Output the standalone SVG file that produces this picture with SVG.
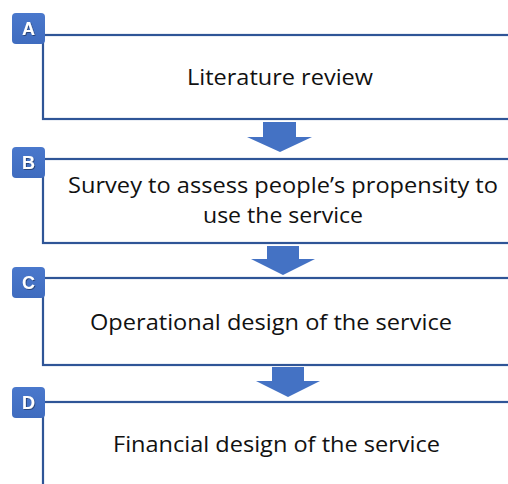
<svg xmlns="http://www.w3.org/2000/svg" width="508" height="484" viewBox="0 0 508 484">
<defs>
<linearGradient id="badgeGrad" x1="0" y1="0" x2="0" y2="1">
<stop offset="0" stop-color="#4a78cc"/>
<stop offset="1" stop-color="#3f6cbf"/>
</linearGradient>
<filter id="txtShadow" x="-20%" y="-20%" width="150%" height="150%">
<feDropShadow dx="0.8" dy="0.8" stdDeviation="0.6" flood-color="#000" flood-opacity="0.5"/>
</filter>
</defs>
<style>
.frame{fill:#fff;stroke:#2f5597;stroke-width:2.2}
.badge{fill:url(#badgeGrad)}
.badgeTxt{font-family:"Liberation Sans",Arial,sans-serif;font-weight:bold;font-size:18px;fill:#fff;text-anchor:middle}
.label{font-family:"Open Sans","Noto Sans",sans-serif;font-size:21.5px;fill:#111;text-anchor:middle}
.arrow{fill:#4472c4}
</style>
<g id="connectors">
<polygon class="arrow" points="263,122 296,122 296,137 312,137 280,152 247,137 263,137"/>
<polygon class="arrow" points="267,246 299,246 299,259 315,259 283,275 251,259 267,259"/>
<polygon class="arrow" points="272,367 304,367 304,381 320,381 288,397 256,381 272,381"/>
</g>
<g id="nodeA">
<rect class="frame" x="43" y="35" width="480" height="84"/>
<rect class="badge" x="12" y="13" width="33" height="31" rx="4"/>
<text class="badgeTxt" x="28.5" y="35" filter="url(#txtShadow)">A</text>
<text class="label" x="280" y="85" textLength="186" lengthAdjust="spacingAndGlyphs">Literature review</text>
</g>
<g id="nodeB">
<rect class="frame" x="43" y="159" width="480" height="84"/>
<rect class="badge" x="12" y="147" width="33" height="31" rx="4"/>
<text class="badgeTxt" x="28.5" y="169" filter="url(#txtShadow)">B</text>
<text class="label" x="283" y="193" textLength="430" lengthAdjust="spacingAndGlyphs">Survey to assess people’s propensity to</text>
<text class="label" x="283" y="223" textLength="160" lengthAdjust="spacingAndGlyphs">use the service</text>
</g>
<g id="nodeC">
<rect class="frame" x="43" y="278" width="480" height="87"/>
<rect class="badge" x="12" y="267" width="33" height="31" rx="4"/>
<text class="badgeTxt" x="28.5" y="289" filter="url(#txtShadow)">C</text>
<text class="label" x="271" y="330" textLength="362" lengthAdjust="spacingAndGlyphs">Operational design of the service</text>
</g>
<g id="nodeD">
<rect class="frame" x="43" y="402" width="480" height="100"/>
<rect class="badge" x="12" y="387" width="33" height="31" rx="4"/>
<text class="badgeTxt" x="28.5" y="409" filter="url(#txtShadow)">D</text>
<text class="label" x="276.5" y="452" textLength="327" lengthAdjust="spacingAndGlyphs">Financial design of the service</text>
</g>
</svg>
